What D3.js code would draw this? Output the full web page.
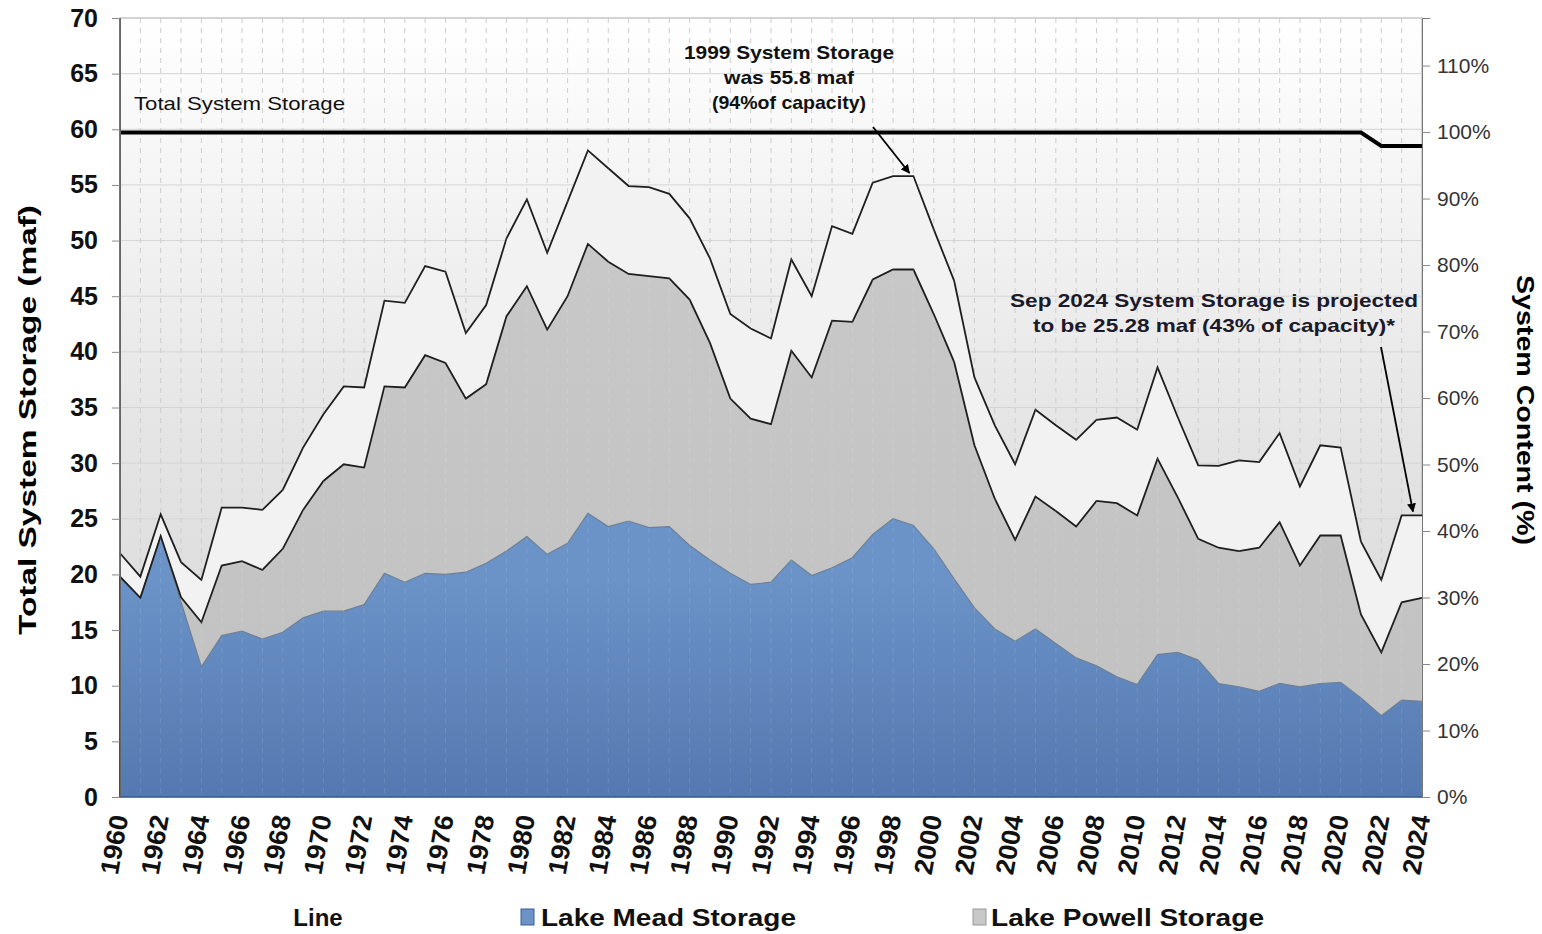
<!DOCTYPE html>
<html lang="en">
<head>
<meta charset="UTF-8" />
<script src="https://d3js.org/d3.v7.min.js"></script>
<style>
  body { margin: 0; background: #fff; }
  svg text { font-family: Arial, "Liberation Sans", sans-serif; }
</style>
</head>
<body>
<svg width="1542" height="934"></svg>
<script>
// data (maf, end of water year)
var years = d3.range(1960, 2025);
var meadStorage = [19.8, 17.9, 23.45, 17.5, 11.7, 14.5, 14.9, 14.2, 14.8, 16.1,
  16.7, 16.7, 17.3, 20.1, 19.3, 20.1, 20.0, 20.2, 21.0, 22.1,
  23.4, 21.8, 22.8, 25.5, 24.3, 24.8, 24.2, 24.3, 22.6, 21.3,
  20.1, 19.1, 19.3, 21.3, 19.9, 20.6, 21.5, 23.6, 25.0, 24.4,
  22.3, 19.6, 17.0, 15.1, 14.0, 15.1, 13.8, 12.5, 11.8, 10.8,
  10.1, 12.8, 13.0, 12.3, 10.2, 9.9, 9.5, 10.2, 9.9, 10.2,
  10.3, 8.9, 7.3, 8.7, 8.6];
var powellStorage = [0, 0, 0, 0.45, 4.0, 6.3, 6.3, 6.2, 7.5, 9.7,
  11.7, 13.2, 12.3, 16.8, 17.5, 19.6, 19.0, 15.6, 16.1, 21.1,
  22.5, 20.2, 22.2, 24.2, 23.8, 22.2, 22.6, 22.3, 22.1, 19.5,
  15.7, 14.9, 14.2, 18.8, 17.8, 22.2, 21.2, 22.9, 22.4, 23.0,
  21.1, 19.5, 14.6, 11.7, 9.1, 11.9, 11.9, 11.8, 14.8, 15.6,
  15.2, 17.6, 13.9, 10.9, 12.2, 12.2, 12.9, 14.5, 10.9, 13.3,
  13.2, 7.5, 5.7, 8.8, 9.3];
var systemStorage = [21.9, 19.8, 25.4, 21.1, 19.5, 26.0, 26.0, 25.8, 27.6, 31.4,
  34.4, 36.9, 36.8, 44.6, 44.4, 47.7, 47.2, 41.7, 44.2, 50.2,
  53.7, 48.9, 53.5, 58.1, 56.5, 54.9, 54.8, 54.2, 52.0, 48.4,
  43.4, 42.1, 41.2, 48.3, 45.0, 51.3, 50.6, 55.2, 55.8, 55.8,
  51.0, 46.4, 37.7, 33.4, 29.9, 34.8, 33.4, 32.1, 33.9, 34.1,
  33.0, 38.6, 34.1, 29.8, 29.75, 30.25, 30.1, 32.7, 27.9, 31.6,
  31.4, 22.95, 19.5, 25.3, 25.3];
var capacityYears = [1960, 2021, 2022, 2024];
var capacity = [59.7, 59.7, 58.5, 58.5];
var leftTicks = d3.range(0, 71, 5);
var rightTicks = d3.range(0, 111, 10);
var yearTicks = d3.range(1960, 2025, 2);

var svg = d3.select("svg"),
  margin = { top: 18, right: 120, bottom: 137, left: 120 },
  width = +svg.attr("width") - margin.left - margin.right,
  height = +svg.attr("height") - margin.top - margin.bottom;

var x = d3.scaleLinear().domain([1960, 2024]).range([margin.left, margin.left + width]);
var y = d3.scaleLinear().domain([0, 70]).range([margin.top + height, margin.top]);
var yPct = d3.scaleLinear().domain([0, 70 / 59.75 * 100]).range([margin.top + height, margin.top]);

var rows = years.map(function (yr, i) {
  return { year: yr, mead: meadStorage[i], powell: powellStorage[i], total: systemStorage[i] };
});

var defs = svg.append("defs");
function grad(id, stops) {
  var g = defs.append("linearGradient").attr("id", id)
    .attr("gradientUnits", "userSpaceOnUse")
    .attr("x1", 0).attr("x2", 0).attr("y1", margin.top).attr("y2", margin.top + height);
  stops.forEach(function (s) {
    g.append("stop").attr("offset", s[0]).attr("stop-color", s[1]);
  });
}
grad("bg", [[0, "#ffffff"], [0.55, "#e4e4e4"], [1, "#d6d6d6"]]);
grad("blue", [[0.4, "#6a94c9"], [0.72, "#6b93c8"], [1, "#5479b0"]]);
grad("grey", [[0.2, "#c9c9c9"], [1, "#c1c1c1"]]);
defs.append("marker").attr("id", "arrow")
  .attr("viewBox", "0 0 10 10").attr("refX", 9).attr("refY", 5)
  .attr("markerWidth", 5).attr("markerHeight", 5).attr("orient", "auto")
  .append("path").attr("d", "M0,0L10,5L0,10z").attr("fill", "#000");

// plot background
svg.append("rect")
  .attr("x", margin.left).attr("y", margin.top)
  .attr("width", width).attr("height", height)
  .attr("fill", "url(#bg)").attr("stroke", "#aaa");

// grid
svg.append("g").selectAll("line").data(leftTicks.slice(1)).enter().append("line")
  .attr("x1", margin.left).attr("x2", margin.left + width)
  .attr("y1", function (d) { return y(d); }).attr("y2", function (d) { return y(d); })
  .attr("stroke", "#d4d4d4");
svg.append("g").selectAll("line").data(years.slice(1)).enter().append("line")
  .attr("x1", function (d) { return x(d); }).attr("x2", function (d) { return x(d); })
  .attr("y1", margin.top).attr("y2", margin.top + height)
  .attr("stroke", "#c8c8c8").attr("stroke-dasharray", "5,5");

// stacked areas
var areaOther = d3.area()
  .x(function (d) { return x(d.year); })
  .y0(function (d) { return y(d.mead + d.powell); })
  .y1(function (d) { return y(d.total); });
var areaPowell = d3.area()
  .x(function (d) { return x(d.year); })
  .y0(function (d) { return y(d.mead); })
  .y1(function (d) { return y(d.mead + d.powell); });
var areaMead = d3.area()
  .x(function (d) { return x(d.year); })
  .y0(y(0))
  .y1(function (d) { return y(d.mead); });

svg.append("path").datum(rows).attr("d", areaOther).attr("fill", "#f2f2f2");
svg.append("path").datum(rows).attr("d", areaPowell).attr("fill", "url(#grey)");
svg.append("path").datum(rows).attr("d", areaMead).attr("fill", "url(#blue)");

svg.append("path").datum(rows)
  .attr("d", d3.line().x(function (d) { return x(d.year); }).y(function (d) { return y(d.mead); }))
  .attr("fill", "none").attr("stroke", "#6f7f93").attr("stroke-width", 1.2);
svg.append("path").datum(rows)
  .attr("d", d3.line().x(function (d) { return x(d.year); }).y(function (d) { return y(d.mead + d.powell); }))
  .attr("fill", "none").attr("stroke", "#1e1e1e").attr("stroke-width", 1.8);
svg.append("path").datum(rows)
  .attr("d", d3.line().x(function (d) { return x(d.year); }).y(function (d) { return y(d.total); }))
  .attr("fill", "none").attr("stroke", "#1e1e1e").attr("stroke-width", 1.8);

// faint grid seen through the fills
svg.append("g").selectAll("line").data(years.slice(1)).enter().append("line")
  .attr("x1", function (d) { return x(d); }).attr("x2", function (d) { return x(d); })
  .attr("y1", margin.top).attr("y2", margin.top + height)
  .attr("stroke", "#ffffff").attr("stroke-opacity", 0.12).attr("stroke-dasharray", "5,5");

// total capacity line
svg.append("path")
  .datum(capacityYears.map(function (yr, i) { return [yr, capacity[i]]; }))
  .attr("d", d3.line().x(function (d) { return x(d[0]); }).y(function (d) { return y(d[1]); }))
  .attr("fill", "none").attr("stroke", "#000").attr("stroke-width", 4);

// left edge and baseline
svg.append("line").attr("x1", margin.left).attr("x2", margin.left)
  .attr("y1", margin.top).attr("y2", margin.top + height)
  .attr("stroke", "#555").attr("stroke-width", 1.5);
svg.append("line").attr("x1", margin.left).attr("x2", margin.left)
  .attr("y1", y(meadStorage[0])).attr("y2", margin.top + height)
  .attr("stroke", "#2f5080").attr("stroke-width", 2);
svg.append("line").attr("x1", margin.left).attr("x2", margin.left + width)
  .attr("y1", y(0)).attr("y2", y(0))
  .attr("stroke", "#3b5f92").attr("stroke-width", 1.5);

// axes
var leftAxis = svg.append("g")
  .attr("transform", "translate(" + margin.left + ",0)")
  .call(d3.axisLeft(y).tickValues(leftTicks).tickSize(8).tickPadding(14));
leftAxis.select(".domain").attr("stroke", "#666");
leftAxis.selectAll(".tick line").attr("stroke", "#888");
leftAxis.selectAll("text").attr("font-size", 25).attr("font-weight", "bold").attr("fill", "#111")
  .style("font-family", "Arial, 'Liberation Sans', sans-serif");

var rightAxis = svg.append("g")
  .attr("transform", "translate(" + (margin.left + width) + ",0)")
  .call(d3.axisRight(yPct).tickValues(rightTicks).tickSize(8).tickPadding(7)
    .tickFormat(function (d) { return d + "%"; }));
rightAxis.select(".domain").attr("stroke", "#777");
rightAxis.selectAll(".tick line").attr("stroke", "#888");
rightAxis.selectAll("text").attr("font-size", 21).attr("fill", "#333")
  .style("font-family", "Arial, 'Liberation Sans', sans-serif");

svg.append("g").selectAll("text").data(yearTicks).enter().append("text")
  .attr("transform", function (d) { return "translate(" + (x(d) - 1) + ",815) rotate(-80)"; })
  .attr("text-anchor", "end").attr("dy", "0.36em")
  .attr("font-size", 26).attr("font-weight", "bold").attr("fill", "#111")
  .attr("textLength", 60).attr("lengthAdjust", "spacingAndGlyphs")
  .text(function (d) { return d; });

// axis titles
svg.append("text")
  .attr("transform", "translate(36,420) rotate(-90)")
  .attr("text-anchor", "middle").attr("font-size", 23).attr("font-weight", "bold")
  .attr("textLength", 430).attr("lengthAdjust", "spacingAndGlyphs")
  .text("Total System Storage (maf)");
svg.append("text")
  .attr("transform", "translate(1517,410) rotate(90)")
  .attr("text-anchor", "middle").attr("font-size", 23).attr("font-weight", "bold")
  .attr("textLength", 270).attr("lengthAdjust", "spacingAndGlyphs")
  .text("System Content  (%)");

// annotations
svg.append("text").attr("x", 134).attr("y", 110).attr("font-size", 19).attr("fill", "#111")
  .attr("textLength", 211).attr("lengthAdjust", "spacingAndGlyphs")
  .text("Total System Storage");

var note1 = ["1999 System Storage", "was 55.8 maf", "(94%of capacity)"];
var note1Len = [210, 130, 154];
svg.append("g").selectAll("text").data(note1).enter().append("text")
  .attr("x", 789).attr("y", function (d, i) { return 59 + i * 25; })
  .attr("text-anchor", "middle").attr("font-size", 19).attr("font-weight", "bold").attr("fill", "#111")
  .attr("textLength", function (d, i) { return note1Len[i]; }).attr("lengthAdjust", "spacingAndGlyphs")
  .text(function (d) { return d; });
svg.append("line").attr("x1", 873).attr("y1", 127).attr("x2", x(1999) - 4).attr("y2", y(55.8) - 3)
  .attr("stroke", "#000").attr("stroke-width", 1.8).attr("marker-end", "url(#arrow)");

var note2 = ["Sep 2024 System Storage is projected", "to be 25.28 maf (43% of capacity)*"];
var note2Len = [408, 362];
svg.append("g").selectAll("text").data(note2).enter().append("text")
  .attr("x", 1214).attr("y", function (d, i) { return 307 + i * 25; })
  .attr("text-anchor", "middle").attr("font-size", 19).attr("font-weight", "bold").attr("fill", "#1a1a2a")
  .attr("textLength", function (d, i) { return note2Len[i]; }).attr("lengthAdjust", "spacingAndGlyphs")
  .text(function (d) { return d; });
svg.append("line").attr("x1", 1381).attr("y1", 347).attr("x2", x(2024) - 9).attr("y2", y(25.28) - 4)
  .attr("stroke", "#000").attr("stroke-width", 1.8).attr("marker-end", "url(#arrow)");

// legend
var legend = svg.append("g").attr("font-size", 24).attr("font-weight", "bold").attr("fill", "#111");
legend.append("text").attr("x", 318).attr("y", 926).attr("text-anchor", "middle").text("Line");
legend.append("rect").attr("x", 521).attr("y", 909).attr("width", 13).attr("height", 16)
  .attr("fill", "#6b93c7").attr("stroke", "#3b5f92");
legend.append("text").attr("x", 541).attr("y", 926)
  .attr("textLength", 255).attr("lengthAdjust", "spacingAndGlyphs").text("Lake Mead Storage");
legend.append("rect").attr("x", 973).attr("y", 909).attr("width", 13).attr("height", 16)
  .attr("fill", "#c8c8c8").attr("stroke", "#999");
legend.append("text").attr("x", 991).attr("y", 926)
  .attr("textLength", 273).attr("lengthAdjust", "spacingAndGlyphs").text("Lake Powell Storage");
</script>
</body>
</html>
